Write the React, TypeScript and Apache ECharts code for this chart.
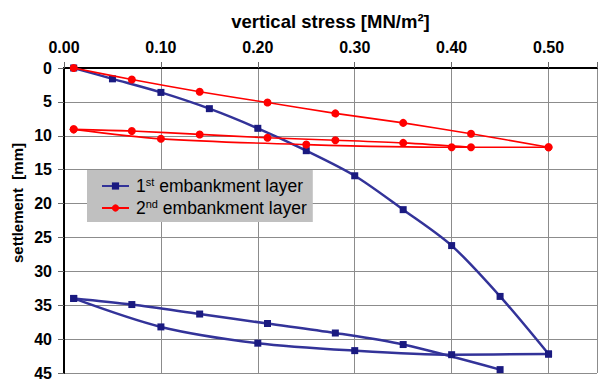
import React, { useEffect, useRef } from "react";
import * as echarts from "echarts";

// Layer 1 (blue) — loading, unloading, reloading
const stressLoad1 = [0.01, 0.05, 0.1, 0.15, 0.2, 0.25, 0.3, 0.35, 0.4, 0.45, 0.5];
const settleLoad1 = [0, 1.6, 3.6, 6.0, 8.9, 12.2, 15.9, 20.9, 26.2, 33.7, 42.2];
const stressUnload1 = [0.5, 0.4, 0.3, 0.2, 0.1, 0.01];
const settleUnload1 = [42.2, 42.3, 41.7, 40.6, 38.2, 34.0];
const stressReload1 = [0.01, 0.07, 0.14, 0.21, 0.28, 0.35, 0.45];
const settleReload1 = [34.0, 34.9, 36.3, 37.7, 39.1, 40.8, 44.5];

// Layer 2 (red)
const stressLoad2 = [0.01, 0.07, 0.14, 0.21, 0.28, 0.35, 0.42, 0.5];
const settleLoad2 = [0, 1.7, 3.5, 5.1, 6.7, 8.1, 9.7, 11.7];
const stressUnload2 = [0.5, 0.4, 0.25, 0.1, 0.01];
const settleUnload2 = [11.7, 11.7, 11.3, 10.45, 9.05];
const stressReload2 = [0.01, 0.07, 0.14, 0.21, 0.28, 0.35, 0.42];
const settleReload2 = [9.05, 9.3, 9.8, 10.3, 10.65, 11.05, 11.7];

const seriesNames = ["1st embankment layer", "2nd embankment layer"];
const xTitle = "vertical stress [MN/m²]";
const yTitle = "settlement  [mm]";

const FONT = "Arial, 'Liberation Sans', sans-serif";

function pairs(xs: number[], ys: number[]) {
  return xs.map((x, i) => [x, ys[i]]);
}

export default function App() {
  const ref = useRef<HTMLDivElement>(null);
  useEffect(() => {
    if (!ref.current) return;
    const chart = echarts.init(ref.current, null, { renderer: "svg" });
    const blue = (data: number[][]) => ({
      type: "line",
      name: seriesNames[0],
      data,
      smooth: 0.3,
      symbol: "rect",
      symbolSize: 7,
      showAllSymbol: true,
      lineStyle: { color: "#333399", width: 2.5 },
      itemStyle: { color: "#1a1a80" },
      z: 3,
    });
    const red = (data: number[][]) => ({
      type: "line",
      name: seriesNames[1],
      data,
      smooth: 0.3,
      symbol: "circle",
      symbolSize: 8,
      showAllSymbol: true,
      lineStyle: { color: "#ff0000", width: 1.6 },
      itemStyle: { color: "#ff0000" },
      z: 4,
    });
    chart.setOption({
      animation: false,
      backgroundColor: "#ffffff",
      grid: { left: 64, top: 68, right: 0, bottom: 6, containLabel: false },
      xAxis: {
        type: "value",
        position: "top",
        min: 0,
        max: 0.55,
        interval: 0.1,
        name: xTitle,
        nameLocation: "middle",
        nameGap: 37,
        nameTextStyle: { fontFamily: FONT, fontWeight: "bold", fontSize: 18.5, color: "#000" },
        axisLine: { show: true, lineStyle: { color: "#000", width: 2 } },
        axisTick: { show: true, inside: false, length: 6, lineStyle: { color: "#666" } },
        axisLabel: {
          margin: 13,
          fontFamily: FONT,
          fontWeight: "bold",
          fontSize: 16,
          color: "#000",
          formatter: (v: number) => (v > 0.505 ? "" : v.toFixed(2)),
        },
        splitLine: { show: true, lineStyle: { color: "#8c8c8c", width: 1 } },
      },
      yAxis: {
        type: "value",
        inverse: true,
        min: 0,
        max: 45,
        interval: 5,
        axisLine: { show: true, lineStyle: { color: "#000", width: 2 } },
        axisTick: { show: true, inside: false, length: 6, lineStyle: { color: "#666" } },
        axisLabel: {
          margin: 12,
          fontFamily: FONT,
          fontWeight: "bold",
          fontSize: 16,
          color: "#000",
        },
        splitLine: { show: true, lineStyle: { color: "#8c8c8c", width: 1 } },
      },
      legend: {
        data: seriesNames,
        orient: "vertical",
        left: 87,
        top: 170,
        padding: [6, 6, 4, 14],
        itemGap: 2,
        itemWidth: 27,
        itemHeight: 9,
        backgroundColor: "#c0c0c0",
        borderWidth: 0,
        formatter: (name: string) =>
          name === seriesNames[0]
            ? "1{sup|st} embankment layer"
            : "2{sup|nd} embankment layer",
        textStyle: {
          fontFamily: FONT,
          fontSize: 17.5,
          lineHeight: 20,
          color: "#000",
          padding: [0, 0, 0, 2],
          rich: {
            sup: {
              fontFamily: FONT,
              fontSize: 11,
              lineHeight: 12,
              verticalAlign: "top",
              color: "#000",
            },
          },
        },
      },
      graphic: [
        {
          type: "text",
          x: 17,
          y: 203,
          rotation: Math.PI / 2,
          style: {
            text: yTitle,
            font: "bold 15px Arial, 'Liberation Sans', sans-serif",
            fill: "#000",
            align: "center",
            verticalAlign: "middle",
          },
        },
      ],
      series: [
        blue(pairs(stressLoad1, settleLoad1)),
        blue(pairs(stressUnload1, settleUnload1)),
        blue(pairs(stressReload1, settleReload1)),
        red(pairs(stressLoad2, settleLoad2)),
        red(pairs(stressUnload2, settleUnload2)),
        red(pairs(stressReload2, settleReload2)),
      ],
    });
    return () => chart.dispose();
  }, []);
  return (
    <div
      ref={ref}
      style={{ position: "fixed", left: 0, top: 0, width: 600, height: 381 }}
    />
  );
}
